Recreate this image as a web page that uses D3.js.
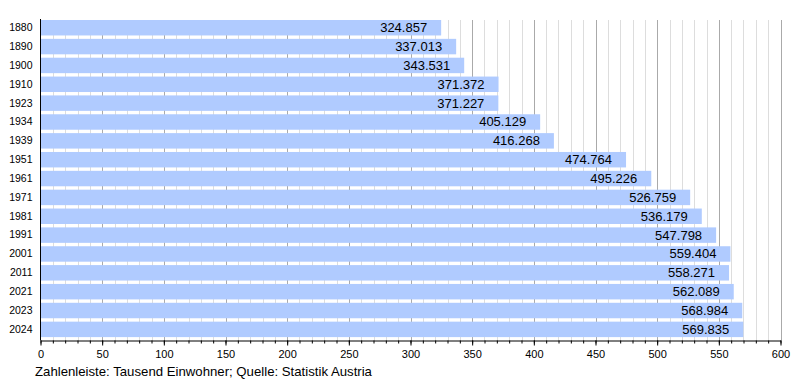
<!DOCTYPE html>
<html><head><meta charset="utf-8">
<script src="https://cdn.jsdelivr.net/npm/d3@7"></script>
<style>body{margin:0;background:#fff}svg{display:block;font-family:"Liberation Sans",Arial,sans-serif}</style>
</head><body>
<svg id="c" width="800" height="380"></svg>
<script>
const years = ["1880","1890","1900","1910","1923","1934","1939","1951","1961","1971","1981","1991","2001","2011","2021","2023","2024"];
const population = [324.857,337.013,343.531,371.372,371.227,405.129,416.268,474.764,495.226,526.759,536.179,547.798,559.404,558.271,562.089,568.984,569.835];
const majorTicks = [0,50,100,150,200,250,300,350,400,450,500,550,600];
const minorTicks = d3.range(0,601,10);
const footer = "Zahlenleiste: Tausend Einwohner; Quelle: Statistik Austria";

const svg = d3.select("#c");
const x = d3.scaleLinear().domain([0,600]).range([40.5,780.5]);
const y = d3.scaleBand().domain(years).range([20,340.5]).paddingInner(0.18).paddingOuter(0.09).align(0);
const plotTop = 20, plotBottom = 340.5;

// grid
svg.append("g").selectAll("line").data(minorTicks.filter(v=>v%50!==0)).join("line")
  .attr("x1",d=>Math.round(x(d))+0.5).attr("x2",d=>Math.round(x(d))+0.5)
  .attr("y1",plotTop).attr("y2",plotBottom).attr("stroke","#dddddd");
svg.append("g").selectAll("line").data(majorTicks.filter(v=>v>0)).join("line")
  .attr("x1",d=>Math.round(x(d))+0.5).attr("x2",d=>Math.round(x(d))+0.5)
  .attr("y1",plotTop).attr("y2",plotBottom).attr("stroke","#aaaaaa");

// bars
svg.append("g").selectAll("rect").data(years).join("rect")
  .attr("x",x(0)).attr("y",d=>y(d))
  .attr("width",(d,i)=>x(population[i])-x(0))
  .attr("height",y.bandwidth()).attr("fill","#b0cbff");

// value labels
svg.append("g").selectAll("text").data(years).join("text")
  .attr("x",(d,i)=>x(population[i])-14).attr("y",d=>y(d)+y.bandwidth()/2+4.5)
  .attr("text-anchor","end").attr("font-size",13).attr("fill","#000")
  .text((d,i)=>d3.format(".3f")(population[i]));

// y axis
const ya = svg.append("g").attr("transform",`translate(${x(0)},0)`)
  .call(d3.axisLeft(y).tickSize(0).tickPadding(8));
ya.select(".domain").attr("d",`M0,${plotTop-1}V${plotBottom}`).attr("stroke","#000");
ya.selectAll("text").attr("font-size",10.5).attr("font-family","Liberation Sans, Arial, sans-serif").attr("fill","#000");

// x axis minor ticks
const xm = svg.append("g").attr("transform",`translate(0,${plotBottom})`)
  .call(d3.axisBottom(x).tickValues(minorTicks).tickSize(3).tickFormat(""));
xm.select(".domain").remove();
xm.selectAll("line").attr("stroke","#000");
// x axis major
const xa = svg.append("g").attr("transform",`translate(0,${plotBottom})`)
  .call(d3.axisBottom(x).tickValues(majorTicks).tickSize(5).tickPadding(5).tickSizeOuter(0));
xa.select(".domain").attr("stroke","#000");
xa.selectAll("line").attr("stroke","#000");
xa.selectAll("text").attr("font-size",11).attr("font-family","Liberation Sans, Arial, sans-serif").attr("fill","#000");

svg.append("text").attr("x",35).attr("y",376).attr("font-size",13.2).attr("fill","#000").text(footer);
</script>
</body></html>
